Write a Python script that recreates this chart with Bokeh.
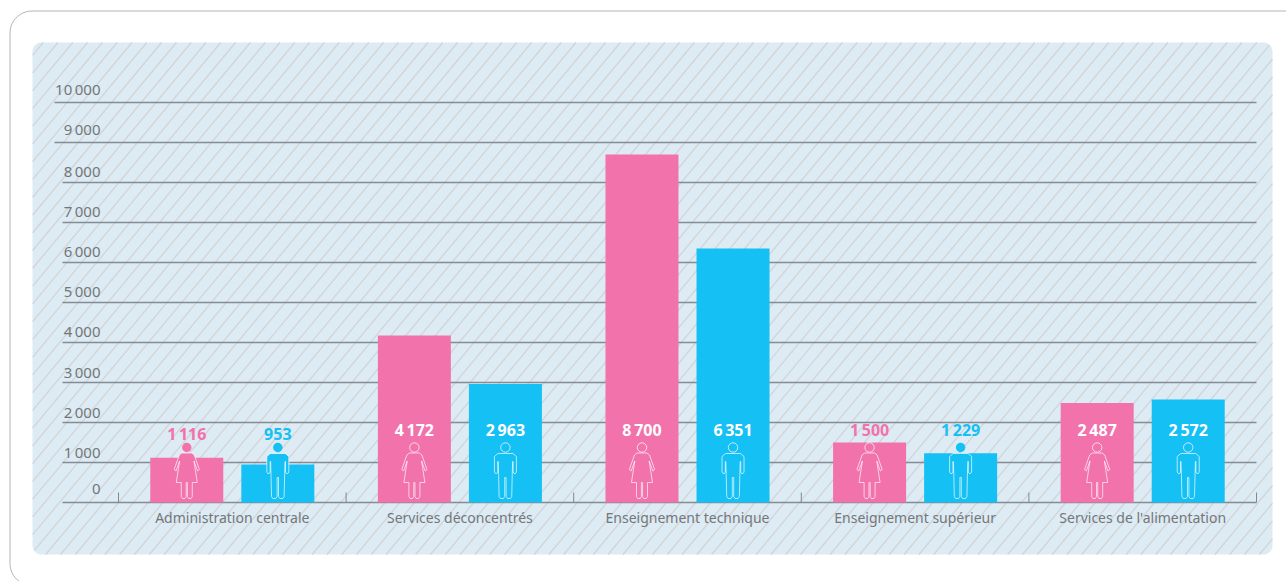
import numpy as np
from bokeh.core.properties import value
from bokeh.embed import file_html
from bokeh.models import Range1d
from bokeh.plotting import figure
from bokeh.resources import INLINE

# Staff numbers by sector, women and men
categories = [
    "Administration centrale",
    "Services déconcentrés",
    "Enseignement technique",
    "Enseignement supérieur",
    "Services de l'alimentation",
]
women = [1116, 4172, 8700, 1500, 2487]
men = [953, 2963, 6351, 1229, 2572]
women_labels = ["1\u2009116", "4\u2009172", "8\u2009700", "1\u2009500", "2\u2009487"]
men_labels = ["953", "2\u2009963", "6\u2009351", "1\u2009229", "2\u2009572"]
y_ticks = [0, 1000, 2000, 3000, 4000, 5000, 6000, 7000, 8000, 9000, 10000]
y_tick_labels = ["0", "1\u2009000", "2\u2009000", "3\u2009000", "4\u2009000", "5\u2009000",
                 "6\u2009000", "7\u2009000", "8\u2009000", "9\u2009000", "10\u2009000"]

PINK = "#f272ac"
BLUE = "#14c0f4"
WIDTH, HEIGHT = 1286, 581
PX_PER_UNIT = 0.04
BASE_PX = 502.0
GROUP_PX = 227.6
ORIGIN_PX = 118.0
FONT = value("Noto Sans")
TEXT_GREY = "#74777a"
# The SVG text baseline sits lower than the nominal one; offsets below allow for it
BASELINE_FIX = 6.5

p = figure(
    width=WIDTH, height=HEIGHT, output_backend="svg", toolbar_location=None,
    x_axis_type=None, y_axis_type=None, min_border=0,
    x_range=Range1d(-ORIGIN_PX / GROUP_PX, (WIDTH - ORIGIN_PX) / GROUP_PX),
    y_range=Range1d((BASE_PX - HEIGHT) / PX_PER_UNIT, BASE_PX / PX_PER_UNIT),
    outline_line_color=None, background_fill_color="white", border_fill_color="white",
)
p.grid.visible = False
# Pixel-based range pair for the card, the panel and the pictograms
p.extra_x_ranges["px"] = Range1d(0, WIDTH)
p.extra_y_ranges["px"] = Range1d(HEIGHT, 0)
PX = dict(x_range_name="px", y_range_name="px")


def rounded_rect(left, top, right, bottom, r):
    """Closed outline of a rectangle with rounded corners."""
    a = np.linspace(0, np.pi / 2, 12)
    xs = np.r_[left + r - r * np.cos(a), right - r + r * np.sin(a),
               right - r + r * np.cos(a), left + r - r * np.sin(a)]
    ys = np.r_[top + r - r * np.sin(a), top + r - r * np.cos(a),
               bottom - r + r * np.sin(a), bottom - r + r * np.cos(a)]
    return np.r_[xs, xs[0]], np.r_[ys, ys[0]]


def inside_panel(x, y, left, top, right, bottom, r):
    dx = np.maximum(np.maximum(left + r - x, x - right + r), 0)
    dy = np.maximum(np.maximum(top + r - y, y - bottom + r), 0)
    return (x >= left) & (x <= right) & (dx ** 2 + dy ** 2 <= r ** 2)


# Outer card, running past the page on the right and at the bottom
cx, cy = rounded_rect(9.5, 10.5, 1320, 585, 22)
p.line(cx, cy, line_color="#b4b4b4", line_width=1, **PX)

# Tinted panel
L, T, R, B, RAD = 32, 42, 1272, 554, 9
px_, py_ = rounded_rect(L, T, R, B, RAD)
p.patch(px_, py_, fill_color="#dcebf4", line_color=None, **PX)

# Diagonal hatching, trimmed to the panel
SLOPE = 1.2
STEP = 14.8
hx, hy = [], []
for c in np.arange(669.7 % STEP - STEP, 1800, STEP):
    t = np.linspace(T, B, 1500)
    x = c - t / SLOPE
    keep = inside_panel(x, t, L, T, R, B, RAD)
    if keep.sum() > 1:
        hx.append([x[keep][0], x[keep][-1]])
        hy.append([t[keep][0], t[keep][-1]])
p.multi_line(hx, hy, line_color="#d3d3d5", line_width=1.25, **PX)

# Value gridlines: the two upper ones reach further left
grid_start = [(54 if t >= 9000 else 62) for t in y_ticks]
p.segment(x0=[(s - ORIGIN_PX) / GROUP_PX for s in grid_start], x1=[5.0] * len(y_ticks),
          y0=y_ticks, y1=y_ticks, line_color="#868d92", line_width=1.6)

# Group separators on the baseline
sep = list(range(len(categories) + 1))
p.segment(x0=sep, x1=sep, y0=[0] * len(sep), y1=[250] * len(sep),
          line_color="#7f898f", line_width=1)

# Bars
idx = np.arange(len(categories))
p.vbar(x=idx + 0.5 - 0.2, top=women, bottom=0, width=73 / GROUP_PX, fill_color=PINK, line_color=None)
p.vbar(x=idx + 0.5 + 0.2, top=men, bottom=0, width=73 / GROUP_PX, fill_color=BLUE, line_color=None)

# Pictograms, half outlines mirrored about the centre
WOMAN_HALF = [(0, 452.5), (5, 452.5), (7.5, 454.5), (12.6, 469), (10.8, 470.5), (7.2, 460.5),
              (10.5, 482), (5.5, 482), (5.5, 496), (4.3, 498), (1.8, 498), (0.6, 496), (0.6, 482), (0, 482)]
MAN_HALF = [(0, 453), (7.5, 453), (11, 456), (11, 471.5), (10, 473), (8.6, 473), (7.7, 471.5),
            (7.7, 461), (7.2, 461), (6.8, 475), (6.3, 496), (5, 498), (2, 498), (0.7, 496), (0.7, 477), (0, 477)]


def draw_person(center_px, half, val, color):
    xs = [center_px + d for d, _ in half] + [center_px - d for d, _ in reversed(half)]
    ys = [y for _, y in half] + [y for _, y in reversed(half)]
    p.patch(xs, ys, fill_color=color, line_color="white", line_width=0.9, line_alpha=0.75, **PX)
    head_in_bar = BASE_PX - val * PX_PER_UNIT < 442.5
    p.circle([center_px], [447], radius=4.7, fill_color=color,
             line_color="white" if head_in_bar else None, line_width=0.9, line_alpha=0.8, **PX)


for i, (w, m) in enumerate(zip(women, men)):
    base = ORIGIN_PX + (i + 0.5) * GROUP_PX
    draw_person(base - 0.2 * GROUP_PX, WOMAN_HALF, w, PINK)
    draw_person(base + 0.2 * GROUP_PX, MAN_HALF, m, BLUE)


def label_colour(val, color):
    return color if val <= 1500 else "white"


def label_lift(val):
    if val < 1200:
        return 62
    return 66


# Value labels above the pictograms
p.text(x=idx + 0.3, y=[0] * 5, text=women_labels, text_align="center", text_baseline="alphabetic",
       y_offset=[-label_lift(v) - BASELINE_FIX for v in women], text_color=[label_colour(v, PINK) for v in women],
       text_font=FONT, text_font_style="bold", text_font_size="16px")
p.text(x=idx + 0.7, y=[0] * 5, text=men_labels, text_align="center", text_baseline="alphabetic",
       y_offset=[-label_lift(v) - BASELINE_FIX for v in men], text_color=[label_colour(v, BLUE) for v in men],
       text_font=FONT, text_font_style="bold", text_font_size="16px")

# Category names below the baseline
p.text(x=idx + 0.5, y=[0] * 5, text=categories, text_align="center", text_baseline="alphabetic",
       y_offset=[21 - BASELINE_FIX] * 5, text_color=TEXT_GREY, text_font=FONT, text_font_size="14px")

# Value scale labels, sitting above their lines
lift = [7, 4, 4, 4, 5, 5, 5, 5, 5, 7, 7]
p.text(x=[(100 - ORIGIN_PX) / GROUP_PX] * len(y_ticks), y=y_ticks, text=y_tick_labels,
       text_align="right", text_baseline="alphabetic", y_offset=[-v - BASELINE_FIX for v in lift],
       text_color=TEXT_GREY, text_font=FONT, text_font_size="15px")

open("out.html", "w").write(file_html(p, INLINE))
